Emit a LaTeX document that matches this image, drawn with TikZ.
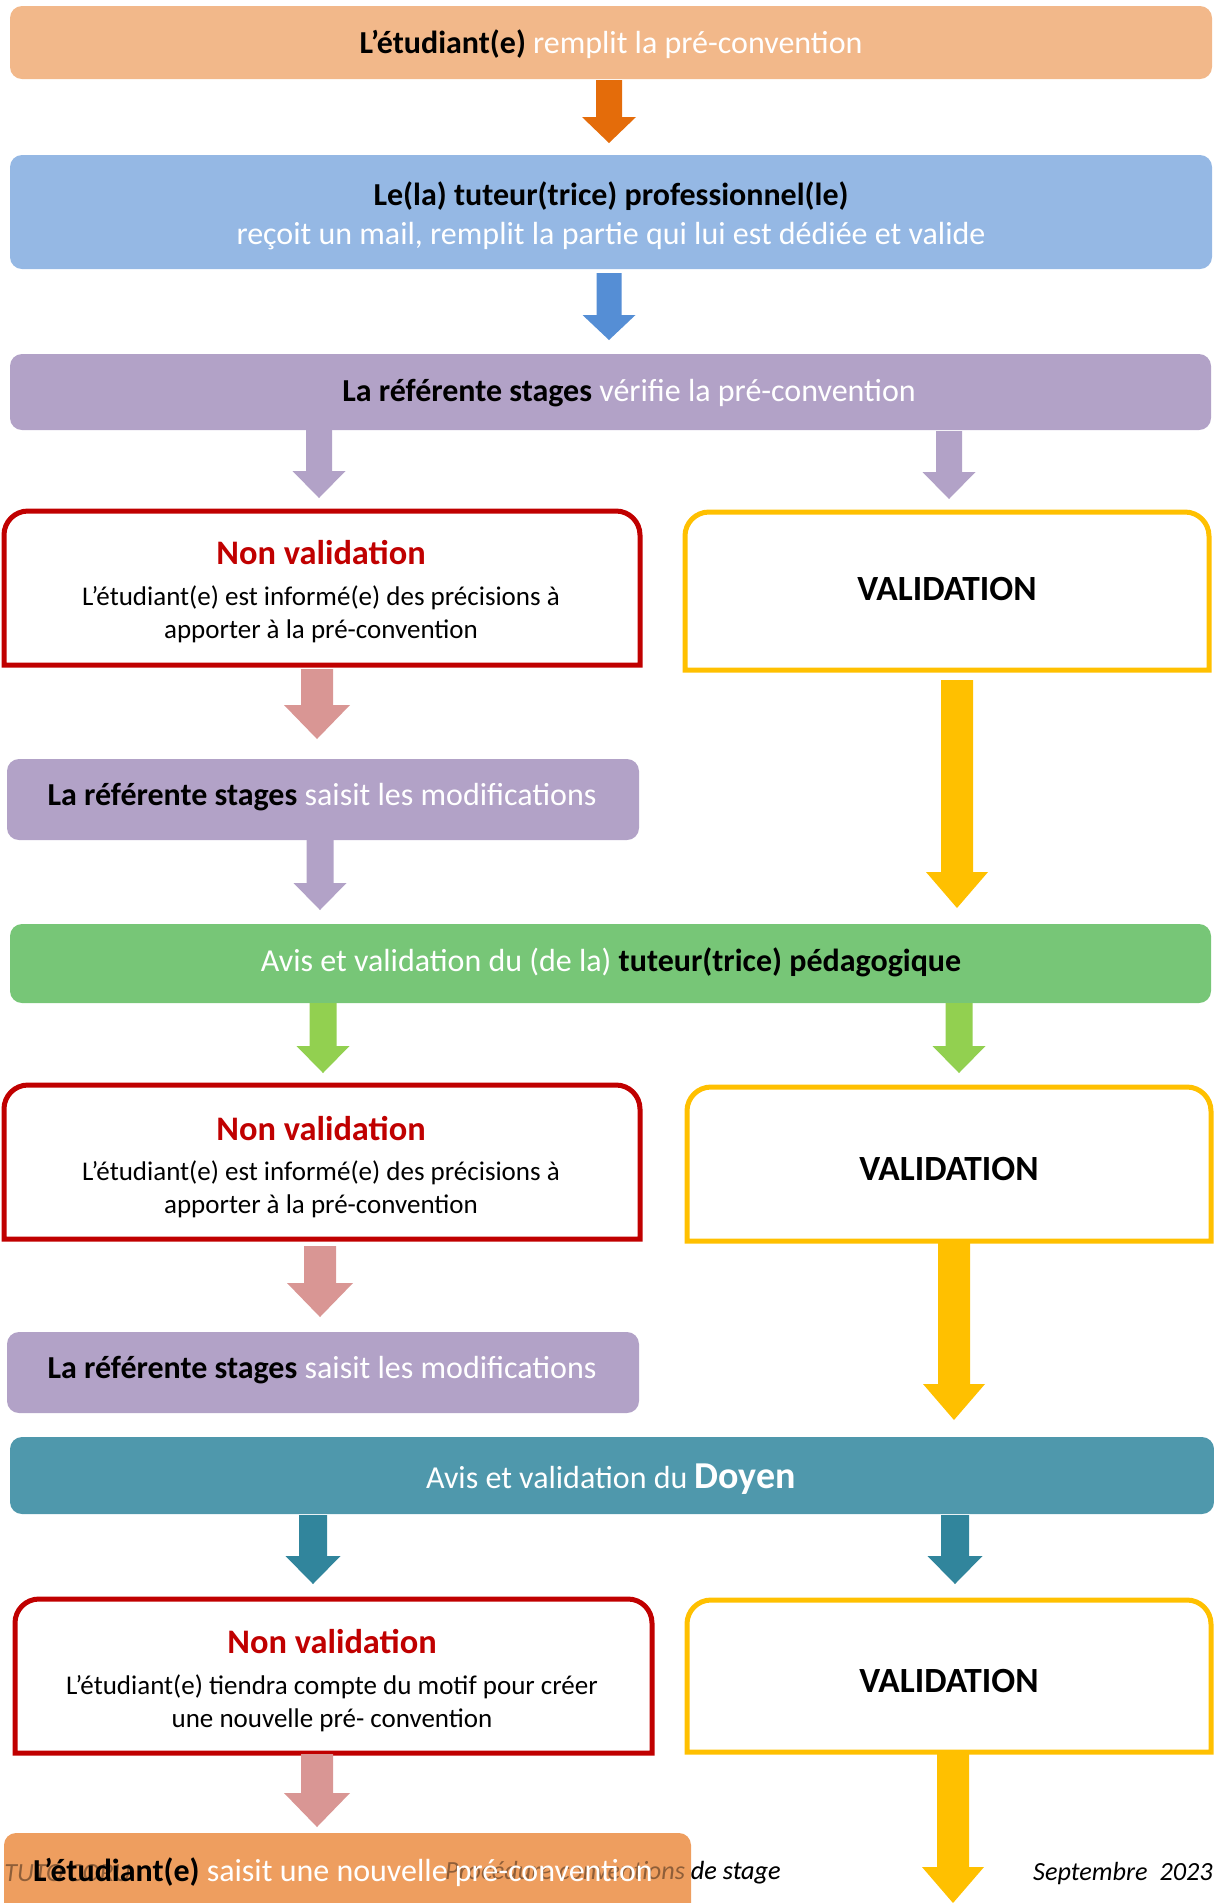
\documentclass[tikz,border=0pt]{standalone}
\usepackage{fontspec}
\setmainfont{Carlito}
\definecolor{peach}{HTML}{F2B88A}
\definecolor{orarrow}{HTML}{E46C0A}
\definecolor{bluebox}{HTML}{95B8E4}
\definecolor{bluearrow}{HTML}{558ED5}
\definecolor{purp}{HTML}{B2A2C7}
\definecolor{nvred}{HTML}{C00000}
\definecolor{valyel}{HTML}{FFC000}
\definecolor{pinkarrow}{HTML}{D99694}
\definecolor{greenbox}{HTML}{77C677}
\definecolor{greenarrow}{HTML}{92D050}
\definecolor{tealbox}{HTML}{4F98AC}
\definecolor{tealarrow}{HTML}{31859C}
\definecolor{orbox}{HTML}{EE9E5F}
\newcommand\blockarrow[7]{\fill[#1] ({#2-#5/2},#3) -- ({#2+#5/2},#3) -- ({#2+#5/2},{#4-#7}) -- ({#2+#6/2},{#4-#7}) -- (#2,#4) -- ({#2-#6/2},{#4-#7}) -- ({#2-#5/2},{#4-#7}) -- cycle;}
\newcommand\nvframe[5]{\draw[#1, line width=2.5pt] (#2,#5) -- (#2,{#3+24}) arc[start angle=180, end angle=270, radius=24] -- ({#4-24},#3) arc[start angle=270, end angle=360, radius=24] -- (#4,#5) -- cycle;}
\begin{document}
\begin{tikzpicture}[x=0.5pt,y=-0.5pt,
  maintext/.style={inner sep=0pt, font=\fontsize{16}{19.5}\selectfont, align=center},
  titletext/.style={inner sep=0pt, font=\fontsize{17.2}{20}\selectfont\bfseries, text=nvred},
  bodytext/.style={inner sep=0pt, font=\fontsize{13.5}{16.5}\selectfont, align=center},
  valtext/.style={inner sep=0pt, font=\fontsize{17.7}{20}\selectfont\bfseries},
  foottext/.style={inner sep=0pt, font=\fontsize{13.1}{16}\selectfont\itshape}]
\useasboundingbox (0,0) rectangle (1214,1903);

% footer (under the last box)
\node[foottext, anchor=west] (footl) at (4,1873) {TUTO CORU};
\node[foottext, anchor=east] (footm) at (781,1873) {Procédure conventions de stage};
\node[foottext, anchor=east] (footr) at (1213,1873) {Septembre\ \ 2023};

% box 1
\fill[peach, rounded corners=6pt] (10,6) rectangle (1212,79);
\node[maintext] (b1) at (611,44) {\textbf{L’étudiant(e)} \textcolor{white}{remplit la pré-convention}};
\blockarrow{orarrow}{609}{80}{143}{26}{54}{26}

% box 2
\fill[bluebox, rounded corners=6pt] (10,155) rectangle (1212,269);
\node[maintext] (b2) at (611,216) {\textbf{Le(la) tuteur(trice) professionnel(le)}\\\textcolor{white}{reçoit un mail, remplit la partie qui lui est dédiée et valide}};
\blockarrow{bluearrow}{609}{273}{340}{25}{53}{25}

% box 3
\fill[purp, rounded corners=6pt] (10,354) rectangle (1211,430);
\node[maintext] (b3) at (629,393) {\textbf{La référente stages} \textcolor{white}{vérifie la pré-convention}};
\blockarrow{purp}{319}{430}{498}{26}{53}{27}
\blockarrow{purp}{949}{431}{499}{26}{53}{27}

% level 1 decisions
\nvframe{nvred}{4}{511}{640}{665}
\node[titletext] (nv1t) at (321,553) {Non validation};
\node[bodytext] (nv1b) at (321,614) {L’étudiant(e) est informé(e) des précisions à\\apporter à la pré-convention};
\nvframe{valyel}{685}{512}{1209}{670}
\node[valtext] (v1) at (947,589) {VALIDATION};
\blockarrow{pinkarrow}{317}{669}{739}{32}{66}{34}
\blockarrow{valyel}{957}{680}{908}{32}{62}{36}

% modification 1
\fill[purp, rounded corners=6pt] (7,759) rectangle (639,840);
\node[maintext] (m1) at (322,797) {\textbf{La référente stages} \textcolor{white}{saisit les modifications}};
\blockarrow{purp}{320}{840}{910}{27}{53}{27}

% green box
\fill[greenbox, rounded corners=6pt] (10,924) rectangle (1211,1003);
\node[maintext] (g) at (611,962) {\textcolor{white}{Avis et validation du (de la)} \textbf{tuteur(trice) pédagogique}};
\blockarrow{greenarrow}{323}{1003}{1073}{27}{53}{27}
\blockarrow{greenarrow}{959}{1003}{1073}{27}{53}{27}

% level 2 decisions
\nvframe{nvred}{4}{1085}{640}{1239}
\node[titletext] (nv2t) at (321,1129) {Non validation};
\node[bodytext] (nv2b) at (321,1189) {L’étudiant(e) est informé(e) des précisions à\\apporter à la pré-convention};
\nvframe{valyel}{687}{1087}{1211}{1241}
\node[valtext] (v2) at (949,1169) {VALIDATION};
\blockarrow{pinkarrow}{320}{1246}{1317}{32}{66}{34}
\blockarrow{valyel}{954}{1243}{1420}{32}{62}{36}

% modification 2
\fill[purp, rounded corners=6pt] (7,1332) rectangle (639,1413);
\node[maintext] (m2) at (322,1370) {\textbf{La référente stages} \textcolor{white}{saisit les modifications}};

% teal box
\fill[tealbox, rounded corners=6pt] (10,1437) rectangle (1214,1514);
\node[maintext] (d) at (611,1479) {\textcolor{white}{Avis et validation du \textbf{\fontsize{19}{20}\selectfont Doyen}}};
\blockarrow{tealarrow}{313}{1515}{1584}{28}{55}{28}
\blockarrow{tealarrow}{955}{1515}{1584}{28}{55}{28}

% level 3 decisions
\nvframe{nvred}{15}{1599}{652}{1753}
\node[titletext] (nv3t) at (332,1642) {Non validation};
\node[bodytext] (nv3b) at (332,1703) {L’étudiant(e) tiendra compte du motif pour créer\\une nouvelle pré- convention};
\nvframe{valyel}{687}{1600}{1211}{1752}
\node[valtext] (v3) at (949,1681) {VALIDATION};
\blockarrow{pinkarrow}{317}{1754}{1827}{32}{66}{34}
\blockarrow{valyel}{953}{1752}{1903}{32}{62}{36}

% last box
\fill[orbox, rounded corners=6pt] (4,1833) rectangle (691,1930);
\node[foottext, anchor=west, opacity=0.4] (footl2) at (4,1873) {TUTO CORU};
\node[foottext, anchor=east, opacity=0.4] (footm2) at (781,1873) {Procédure conventions de stage};
\node[maintext] (e) at (343,1872) {\textbf{L’étudiant(e)} \textcolor{white}{saisit une nouvelle pré-convention}};
\end{tikzpicture}
\end{document}
